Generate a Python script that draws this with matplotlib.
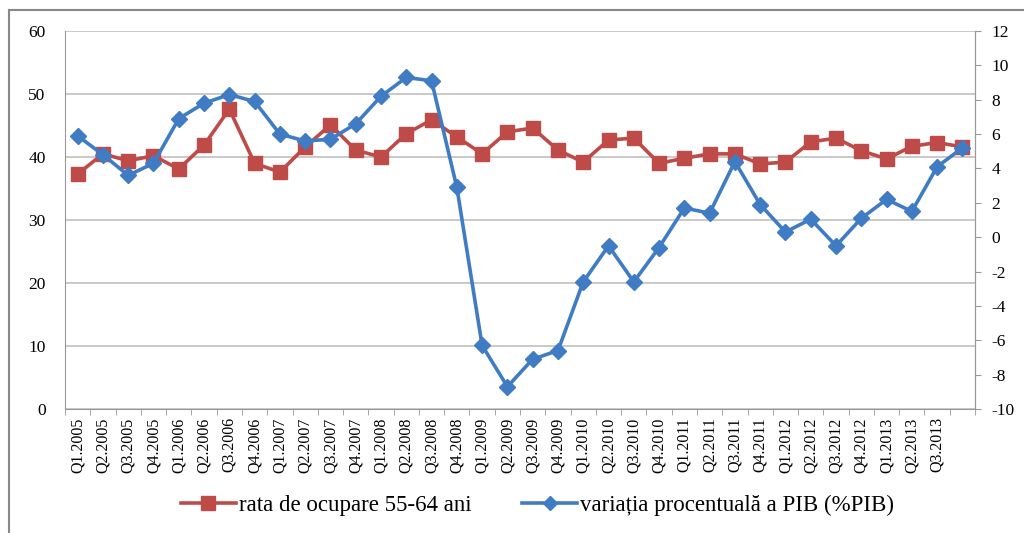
import matplotlib.pyplot as plt
from matplotlib.lines import Line2D

quarters = ["Q1.2005", "Q2.2005", "Q3.2005", "Q4.2005",
            "Q1.2006", "Q2.2006", "Q3.2006", "Q4.2006",
            "Q1.2007", "Q2.2007", "Q3.2007", "Q4.2007",
            "Q1.2008", "Q2.2008", "Q3.2008", "Q4.2008",
            "Q1.2009", "Q2.2009", "Q3.2009", "Q4.2009",
            "Q1.2010", "Q2.2010", "Q3.2010", "Q4.2010",
            "Q1.2011", "Q2.2011", "Q3.2011", "Q4.2011",
            "Q1.2012", "Q2.2012", "Q3.2012", "Q4.2012",
            "Q1.2013", "Q2.2013", "Q3.2013", ""]

rata_ocupare = [37.3, 40.5, 39.4, 40.2, 38.1, 41.9, 47.6, 39.0, 37.6, 41.6,
                45.1, 41.1, 40.0, 43.7, 45.9, 43.2, 40.5, 44.0, 44.6, 41.1,
                39.2, 42.7, 43.0, 39.0, 39.8, 40.5, 40.5, 38.9, 39.2, 42.4,
                43.0, 41.0, 39.7, 41.7, 42.3, 41.6]

variatie_pib = [5.9, 4.8, 3.6, 4.3, 6.9, 7.8, 8.3, 7.9, 6.0, 5.6,
                5.7, 6.6, 8.2, 9.3, 9.1, 2.9, -6.3, -8.7, -7.1, -6.6,
                -2.6, -0.5, -2.6, -0.6, 1.7, 1.4, 4.4, 1.9, 0.3, 1.05,
                -0.5, 1.1, 2.2, 1.5, 4.1, 5.2]

red = "#BE4B48"
blue = "#3F7CC4"
plt.rcParams["font.family"] = ["Liberation Serif", "DejaVu Serif"]
plt.rcParams["axes.unicode_minus"] = False

fig = plt.figure(figsize=(10.24, 5.33), dpi=100)
ax = fig.add_axes([0.0635, 0.2326, 0.8887, 0.7092])
x = list(range(len(quarters)))

ax.plot(x, rata_ocupare, color=red, lw=2.6, marker="s", markersize=10.5, zorder=3)
ax.set_ylim(0, 60)
ax.set_yticks(range(0, 61, 10))
ax.set_xlim(-0.5, len(quarters) - 0.5)
ax.set_xticks(x)
ax.set_xticklabels(quarters, rotation=90, fontsize=11.5)
ax.set_xticks([i + 0.5 for i in range(-1, len(quarters))], minor=True)
ax.tick_params(axis="x", which="major", length=0, pad=6)
ax.tick_params(axis="x", which="minor", length=4, color="#999999")
ax.tick_params(axis="y", length=0, labelsize=12.5, pad=14)
ax.grid(axis="y", color="#BBBBBB", lw=1.1)
ax.set_axisbelow(True)
ax.spines["top"].set_visible(False)
for s in ["left", "right", "bottom"]:
    ax.spines[s].set_color("#999999")

ax2 = ax.twinx()
ax2.plot(x, variatie_pib, color=blue, lw=2.6, marker="D", markersize=8.5, zorder=4)
ax2.set_ylim(-10, 12)
ax2.set_yticks(range(-10, 13, 2))
ax2.tick_params(axis="y", length=4, color="#999999", labelsize=12.5, pad=8)
ax2.spines["top"].set_visible(False)
ax2.spines["right"].set_color("#999999")
ax2.spines["left"].set_visible(False)
ax2.spines["bottom"].set_visible(False)

handles = [Line2D([], [], color=red, lw=2.6, marker="s", markersize=9.5),
           Line2D([], [], color=blue, lw=2.6, marker="D", markersize=7.5)]
fig.legend(handles, ["rata de ocupare 55-64 ani", "variația procentuală a PIB (%PIB)"],
           loc="center", bbox_to_anchor=(0.525, 0.052), ncol=2, frameon=False,
           fontsize=16.5, handlelength=2.4, handletextpad=0.15, columnspacing=2.2)

# chenarul graficului (doar stanga si sus vizibile)
fig.add_artist(Line2D([0.0088, 0.0088], [0.0, 0.981], color="#888888", lw=1.5))
fig.add_artist(Line2D([0.0088, 1.0], [0.981, 0.981], color="#888888", lw=1.5))

fig.savefig("out.png", dpi=100, facecolor="white")
